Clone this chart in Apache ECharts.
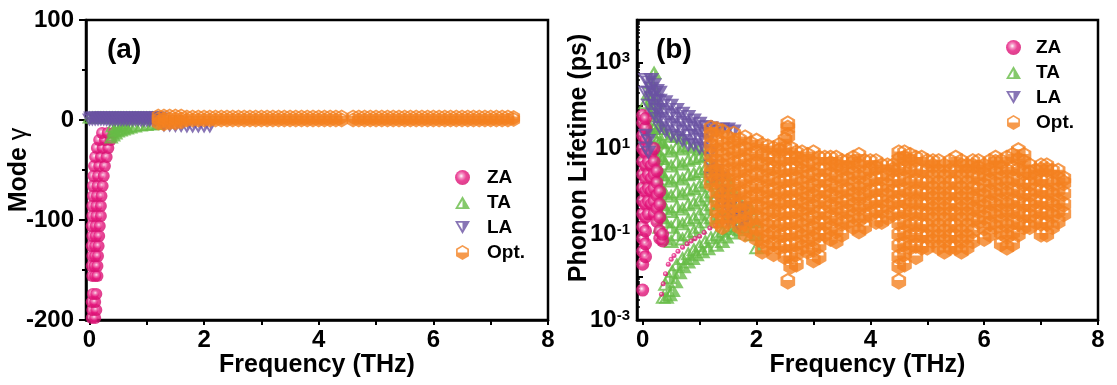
<!DOCTYPE html>
<html><head><meta charset="utf-8">
<script src="https://cdn.jsdelivr.net/npm/echarts@6/dist/echarts.min.js"></script>
<style>html,body{margin:0;padding:0;background:#fff}#c{width:1117px;height:385px}</style>
</head><body><div id="c"></div>
<script>
// ---------- tick labels ----------
const freqLabels = [0, 2, 4, 6, 8];
const freqTicks = [0, 1, 2, 3, 4, 5, 6, 7, 8];
const legendNames = ['ZA', 'TA', 'LA', 'Opt.'];

// ---------- panel (a): mode Grüneisen parameter ----------
const zaGamma = [[0.04,-198],[0.1,-198],[0.05,-190],[0.12,-190],[0.04,-182],[0.1,-182],[0.06,-174],[0.12,-174],
 [0.05,-156],[0.1,-156],[0.14,-156],[0.04,-146],[0.09,-146],[0.14,-146],[0.05,-136],[0.1,-136],[0.15,-136],
 [0.04,-126],[0.1,-126],[0.16,-126],[0.05,-116],[0.11,-116],[0.17,-116],[0.04,-106],[0.11,-106],[0.18,-106],
 [0.05,-96],[0.12,-96],[0.2,-96],[0.05,-86],[0.12,-86],[0.2,-86],[0.06,-76],[0.13,-76],[0.21,-76],[0.06,-66],[0.14,-66],[0.23,-66],
 [0.07,-56],[0.15,-56],[0.25,-56],[0.08,-46],[0.17,-46],[0.27,-46],[0.1,-37],[0.2,-37],[0.3,-37],[0.13,-28],[0.23,-28],[0.33,-28],
 [0.17,-20],[0.27,-20],[0.37,-20],[0.22,-13],[0.32,-13],[0.42,-13]];
const taGamma = [[0.0,3],[0.05,3],[0.1,3],[0.15,3],[0.2,3],[0.25,3],[0.3,3],[0.35,3],[0.4,3],[0.45,3],[0.5,3],[0.55,3],[0.6,3],[0.65,3],
 [0.7,3],[0.75,3],[0.8,3],[0.85,3],[0.9,3],[0.95,3],[1.0,3],[1.05,3],[1.1,3],[1.15,3],[1.2,3],
 [0.38,-17],[0.42,-15],[0.46,-13],[0.5,-11],[0.55,-10],[0.6,-9],[0.66,-8],[0.72,-7],[0.8,-6],[0.9,-5],[1.0,-4.5],[1.1,-4],[1.2,-3.5],
 [0.42,-10],[0.48,-7],[0.55,-6],[0.62,-5],[0.4,-6]];
const laGamma = [[0.0,0],[0.05,0],[0.1,0],[0.15,0],[0.2,0],[0.25,0],[0.3,-0.5],[0.35,-0.5],[0.4,-0.5],[0.45,-0.5],[0.5,-0.5],[0.55,-0.5],
 [0.6,-0.5],[0.65,-0.5],[0.7,-0.5],[0.75,-0.5],[0.8,-0.5],[0.85,-0.5],[0.9,-1],[0.95,-1],[1.0,-1],[1.05,-1],[1.1,-1],[1.15,-1],[1.2,-1],
 [0.02,2],[0.07,2],[0.12,2],[0.17,2],[0.22,2],[0.27,2],[0.32,2],[0.37,2],[0.42,2],[0.47,2],[0.52,2],[0.57,2],[0.62,2],[0.67,2],
 [0.72,2],[0.77,2],[0.82,2],[0.87,2],[0.92,2],[0.97,2],[1.02,2],[1.07,2],[1.12,2],[1.17,2],[1.22,2],[1.25,1],
 [1.3,-6],[1.4,-6],[1.5,-6.5],[1.6,-6.5],[1.7,-7],[1.8,-7],[1.9,-7],[2.0,-7],[2.1,-7]];
const optGamma = [[1.2,-3],[1.2,1],[1.2,4],[1.3,-4],[1.3,1],[1.3,4],[1.4,-3],[1.4,1],[1.4,4],[1.5,-3],[1.5,1],[1.5,4],[1.6,-2],[1.6,1],[1.6,4],
 [1.7,0],[1.7,3],[1.8,0],[1.8,3],[1.9,0],[1.9,3],[2.0,0],[2.0,3],[2.1,0],[2.1,3],[2.2,0],[2.2,3],[2.3,0],[2.3,3],[2.4,0],[2.4,3],
 [2.5,0],[2.5,3],[2.6,0],[2.6,3],[2.7,0],[2.7,3],[2.8,0],[2.8,3],[2.9,0],[2.9,3],[3.0,0],[3.0,3],[3.1,0],[3.1,3],[3.2,0],[3.2,3],
 [3.3,0],[3.3,3],[3.4,0],[3.4,3],[3.5,0],[3.5,3],[3.6,0],[3.6,3],[3.7,0],[3.7,3],[3.8,0],[3.8,3],[3.9,0],[3.9,3],[4.0,0],[4.0,3],
 [4.1,0],[4.1,3],[4.2,0],[4.2,3],[4.3,0],[4.3,3],[4.4,0],[4.4,3],[4.6,0],[4.6,3],[4.7,0],[4.7,3],[4.8,0],[4.8,3],[4.9,0],[4.9,3],
 [5.0,0],[5.0,3],[5.1,0],[5.1,3],[5.2,0],[5.2,3],[5.3,0],[5.3,3],[5.4,0],[5.4,3],[5.5,0],[5.5,3],[5.6,0],[5.6,3],[5.7,0],[5.7,3],
 [5.8,0],[5.8,3],[5.9,0],[5.9,3],[6.0,0],[6.0,3],[6.1,0],[6.1,3],[6.2,0],[6.2,3],[6.3,0],[6.3,3],[6.4,0],[6.4,3],[6.5,0],[6.5,3],
 [6.6,0],[6.6,3],[6.7,0],[6.7,3],[6.8,0],[6.8,3],[6.9,0],[6.9,3],[7.0,0],[7.0,3],[7.1,0],[7.1,3],[7.2,0],[7.2,3],[7.3,0],[7.3,3],[7.4,0.5],[7.4,2.5]];

// ---------- panel (b): phonon lifetime (ps), column-wise ----------
const zaLifeX = [0.0, 0.05, 0.1, 0.15, 0.2, 0.25, 0.3, 0.35];
const zaLifeY = [[0.005,0.02,0.04,0.08,0.15,0.3,0.6,1.2,2.5,5,10,20,40,60],[0.03,0.06,0.12,0.25,0.5,1,2,4,8,16,30,50],
 [0.3,0.6,1.2,2.5,5,10],[0.5,1,2,4,8],[0.3,0.6,1.2,2.5,5,10],[0.2,0.4,0.8,1.6,3],[0.08,0.12,0.25,0.5,1],[0.07,0.1]];
const zaArch = [[0.33,0.004],[0.36,0.007],[0.4,0.012],[0.45,0.02],[0.5,0.026],[0.55,0.032],[0.62,0.04],[0.7,0.05],[0.78,0.06],[0.85,0.07],
 [0.92,0.08],[1.0,0.09],[1.08,0.11],[1.18,0.14],[1.28,0.16],[1.4,0.19]];
const taLifeX = [0.05,0.1,0.15,0.2,0.25,0.3,0.35,0.4,0.5,0.6,0.7,0.8,0.9,1.0,1.1,1.2,1.3,1.4,1.5,1.6,1.7,1.8,1.9,2.0];
const taLifeY = [[3,8,20,50,120],[2,5,12,30,80,200],[1.5,4,10,25,60,150,350],[0.8,2,5,12,30,80,250,600],[0.4,1,2.5,6,15,40,120],
 [0.15,0.3,0.7,1.5,3,7,15,35],[0.1,0.25,0.5,1,2.5,6,14,30],[0.08,0.2,0.4,0.9,2,4.5,10,22],[0.07,0.15,0.35,0.8,1.8,4,9,20],
 [0.1,0.2,0.45,1,2.2,5,11,20],[0.08,0.18,0.4,0.9,2,4.5,10,18],[0.1,0.22,0.5,1.1,2.5,5.5,12],[0.12,0.25,0.55,1.2,2.7,6,11],
 [0.15,0.3,0.65,1.4,3,6.5,10],[0.2,0.4,0.8,1.7,3.5,7],[0.25,0.5,1,2,4],[0.2,0.4,0.8,1.6,3],[0.3,0.6,1.2,2.5],[0.3,0.6,1.2,2],
 [0.25,0.5,1],[0.3,0.6],[0.2,0.4],[0.1,0.2,0.4],[0.05,0.1,0.2]];
const taArch = [[0.36,0.0035],[0.42,0.0035],[0.48,0.004],[0.53,0.005],[0.58,0.008],[0.65,0.013],[0.72,0.018],[0.8,0.023],[0.88,0.028],
 [0.95,0.034],[1.05,0.04],[1.15,0.047],[1.3,0.057],[1.4,0.07],[1.47,0.089],[1.6,0.11],[1.7,0.13],[1.8,0.15],
 [0.4,0.007],[0.46,0.01],[0.52,0.014],[0.6,0.02],[0.7,0.028],[0.8,0.036],[0.9,0.045],[1.0,0.055],[1.1,0.07],[1.2,0.085],
 [1.3,0.1],[1.4,0.12],[1.5,0.14],[1.6,0.16],[1.7,0.2]];
const laLifeX = [0.05,0.1,0.15,0.2,0.25,0.3,0.4,0.5,0.6,0.7,0.8,0.9,1.0,1.1,1.2,1.3,1.4,1.5,1.6,1.7,1.8];
const laLifeY = [[10,20,200,400],[8,15,100,200,350],[150,250,400],[60,100,180,300],[50,80,130,220],[30,50,80,130,200],[25,40,70,120],
 [20,35,60,100],[18,30,50,80],[15,25,40,65],[12,20,35,55],[12,20,30,45],[10,16,25,38],[9,14,22,32],[2,4,8,20,30],[2,3,25],
 [0.5,1,2,28],[0.2,0.4,28],[0.3,0.6,25],[0.15,0.3],[0.2,0.4]];
const optLifeX = [1.2,1.3,1.4,1.5,1.6,1.7,1.8,1.9,2.0,2.1,2.2,2.3,2.4,2.5,2.55,2.6,2.7,2.8,2.9,3.0,3.1,3.2,3.3,3.4,3.5,3.6,3.7,3.8,3.9,
 4.0,4.1,4.2,4.3,4.4,4.5,4.6,4.7,4.8,4.9,5.0,5.1,5.2,5.3,5.4,5.5,5.6,5.7,5.8,5.9,6.0,6.1,6.2,6.3,6.4,6.5,6.6,6.7,6.8,6.9,7.0,7.1,7.2,7.3,7.4];
const optLifeY = [
 [1.5,2.5,4,7,12,20,30],[0.2,0.35,0.6,1,1.8,3,5,9,15,28],[0.15,0.25,0.45,0.8,1.4,2.5,4,7,13,25],[0.2,0.35,0.6,1,1.8,3,5.5,10,18],
 [0.25,0.45,0.8,1.4,2.5,4.5,8,14,22],[0.15,0.28,0.5,0.9,1.6,3,5,9,16],[0.1,0.18,0.32,0.55,1,1.8,3.2,5.5,10,18],[0.12,0.22,0.4,0.7,1.2,2.2,4,7,13],
 [0.08,0.14,0.25,0.45,0.8,1.4,2.5,4.5,8,15],[0.04,0.07,0.12,0.22,0.4,0.7,1.2,2.2,4,7,12],[0.05,0.09,0.16,0.3,0.55,1,1.8,3.2,6,11],
 [0.035,0.06,0.11,0.2,0.35,0.6,1.1,2,3.5,6,10],[0.05,0.09,0.16,0.3,0.5,0.9,1.6,3,5,9,12],[0.03,0.055,0.1,0.18,0.32,0.6,1,1.8,3.2,6,10,16],
 [0.008,20,30,38],[0.018,0.03,0.055,0.1,0.18,0.32,0.6,1,1.8,3.2,6,10],[0.02,0.035,0.06,0.11,0.2,0.35,0.6,1.1,2,3.5,6,8],
 [0.05,0.09,0.16,0.3,0.5,0.9,1.6,3,5,8],[0.04,0.07,0.12,0.22,0.4,0.7,1.2,2.2,4,7],[0.025,0.045,0.08,0.14,0.25,0.45,0.8,1.4,2.5,4.5,8],
 [0.03,0.055,0.1,0.18,0.32,0.6,1,1.8,3.2,6],[0.1,0.18,0.32,0.55,1,1.8,3.2,6],[0.08,0.14,0.25,0.45,0.8,1.4,2.5,4.5,6],
 [0.07,0.12,0.22,0.4,0.7,1.2,2.2,4,6],[0.1,0.18,0.32,0.55,1,1.8,3.2,5],[0.2,0.35,0.6,1.1,2,3.5,5],[0.15,0.27,0.48,0.85,1.5,2.7,4.8,6],
 [0.12,0.22,0.4,0.7,1.2,2.2,4,7],[0.15,0.27,0.48,0.85,1.5,2.7,5],[0.3,0.55,1,1.8,3.2,5],[0.2,0.35,0.6,1.1,2,3.5,5],[0.2,0.35,0.6,1.1,2,4],
 [0.25,0.45,0.8,1.4,2.5,4],[0.3,0.55,1,1.8,3.2,4],[0.008,0.018,0.03,0.055,0.1,0.18,0.32,0.6,1,1.8,3.2,5.5,8],
 [0.02,0.035,0.06,0.11,0.2,0.35,0.6,1.1,2,3.5,6,8],[0.05,0.09,0.16,0.3,0.5,0.9,1.6,3,5,7],[0.03,0.055,0.1,0.18,0.32,0.6,1,1.8,3.2,6],
 [0.05,0.09,0.16,0.3,0.5,0.9,1.6,3,6],[0.05,0.09,0.16,0.3,0.5,0.9,1.6,3,5],[0.07,0.12,0.22,0.4,0.7,1.2,2.2,4,5],
 [0.05,0.09,0.16,0.3,0.5,0.9,1.6,3,5],[0.04,0.07,0.12,0.22,0.4,0.7,1.2,2.2,4],[0.05,0.09,0.16,0.3,0.5,0.9,1.6,3,5],
 [0.05,0.09,0.16,0.3,0.5,0.9,1.6,3,6],[0.04,0.07,0.12,0.22,0.4,0.7,1.2,2.2,4,5],[0.05,0.09,0.16,0.3,0.5,0.9,1.6,3,4],
 [0.07,0.12,0.22,0.4,0.7,1.2,2.2,4,5],[0.2,0.35,0.6,1.1,2,3.5,5],[0.08,0.14,0.25,0.45,0.8,1.4,2.5,4],[0.1,0.18,0.32,0.55,1,1.8,3.2,5],
 [0.15,0.27,0.48,0.85,1.5,2.7,4.8,6],[0.06,0.11,0.2,0.35,0.6,1.1,2,3.5,5],[0.05,0.09,0.16,0.3,0.5,0.9,1.6,3,6],
 [0.06,0.11,0.2,0.35,0.6,1.1,2,3.5,7],[0.1,0.18,0.32,0.55,1,1.8,3.2,5.5,9],[0.15,0.27,0.48,0.85,1.5,2.7,4.8,7],
 [0.15,0.27,0.48,0.85,1.5,2.7,4],[0.2,0.35,0.6,1.1,2,3],[0.1,0.18,0.32,0.55,1,1.8,3.2,4],[0.1,0.18,0.32,0.55,1,1.8,3.2,4],
 [0.15,0.27,0.48,0.85,1.5,3],[0.2,0.35,0.6,1.1,2,3],[0.3,0.5,0.9,1.6,2]];

// ---------- helpers / styling ----------
function cols(xs, ys) { const out = []; xs.forEach((x, i) => ys[i].forEach(y => out.push([x, y]))); return out; }
const FONT = '"Liberation Sans", Arial, Helvetica, sans-serif';
const C = { ZA: '#E6177E', TA: '#66BB46', LA: '#6A52A3', OPT: '#F4811F' };
const SYM_TA = 'path://M50 0L100 87L0 87ZM50 28L21 75L50 75Z';
const SYM_LA = 'path://M0 0L100 0L50 87ZM20 12L50 60L50 12Z';
const SYM_OPT = 'path://M50 0L93 25L93 75L50 100L7 75L7 25ZM50 14L24 29L24 43L76 43L76 29Z';
const SYM_OPT_LEGEND = 'path://M50 0L93 25L93 75L50 100L7 75L7 25ZM50 12L18 31L18 50L82 50L82 31Z';
const zaColor = { type: 'radial', x: 0.42, y: 0.4, r: 0.6,
  colorStops: [{ offset: 0, color: '#ffffff' }, { offset: 0.25, color: '#F27AB6' }, { offset: 0.55, color: C.ZA }, { offset: 1, color: '#D40F6E' }] };

const axisLine = { show: true, onZero: false, lineStyle: { color: '#000', width: 2.5 } };
const tickLbl = { color: '#000', fontSize: 24, fontWeight: 'bold', fontFamily: FONT };
const nameStyle = { color: '#000', fontSize: 25, fontWeight: 'bold', fontFamily: FONT };
const legendData = [{ name: 'ZA' }, { name: 'TA' }, { name: 'LA' }, { name: 'Opt.', icon: SYM_OPT_LEGEND }];

function xAxisCfg(grid, min) {
  return { type: 'value', gridIndex: grid, min: min, max: 8, axisLine: axisLine, splitLine: { show: false },
    axisTick: { show: true, inside: false, length: 5, lineStyle: { width: 2, color: '#000' }, customValues: freqTicks },
    axisLabel: Object.assign({ margin: 8, customValues: freqLabels }, tickLbl),
    name: 'Frequency (THz)', nameLocation: 'middle', nameGap: 33, nameMoveOverlap: false, nameTextStyle: nameStyle };
}
function legendCfg(left, top, pad) {
  return { left: left, top: top, orient: 'vertical', itemWidth: 15, itemHeight: 15, itemGap: 6, selectedMode: false, data: legendData,
    textStyle: { color: '#000', fontSize: 19, fontWeight: 'bold', fontFamily: FONT, lineHeight: 15, padding: [0, 0, 0, pad] } };
}

const option = {
  animation: false,
  grid: [
    { left: 86, right: 569, top: 20, bottom: 65, show: true, borderColor: '#000', borderWidth: 2.5, backgroundColor: 'transparent' },
    { left: 637, right: 19, top: 20, bottom: 65, show: true, borderColor: '#000', borderWidth: 2.5, backgroundColor: 'transparent' }
  ],
  xAxis: [xAxisCfg(0, -0.06), xAxisCfg(1, -0.1)],
  yAxis: [
    { type: 'value', gridIndex: 0, min: -200, max: 100, interval: 100, position: 'left', axisLine: axisLine, splitLine: { show: false },
      axisTick: { show: true, inside: false, length: 7, lineStyle: { width: 2, color: '#000' } },
      minorTick: { show: true, splitNumber: 2, length: 4, lineStyle: { width: 2, color: '#000' } },
      axisLabel: Object.assign({ margin: 12 }, tickLbl),
      name: '{b|Mode }{g|γ}', nameLocation: 'middle', nameGap: 54, nameMoveOverlap: false,
      nameTextStyle: { rich: { b: nameStyle, g: { color: '#000', fontSize: 25, fontWeight: 'normal', fontFamily: FONT } } } },
    { type: 'log', logBase: 10, gridIndex: 1, min: 0.001, max: 10000, position: 'left', axisLine: axisLine, splitLine: { show: false },
      axisTick: { show: true, inside: true, length: 6, lineStyle: { width: 2, color: '#000' } },
      minorTick: { show: true, splitNumber: 9, length: 3, lineStyle: { width: 1.5, color: '#000' } },
      axisLabel: { margin: 7, formatter: v => { const e = Math.round(Math.log10(v)); return (e % 2 === 0) ? '' : '{b|10}{s|' + e + '}'; },
        rich: { b: tickLbl, s: { color: '#000', fontSize: 15, fontWeight: 'bold', fontFamily: FONT, verticalAlign: 'top' } } },
      name: 'Phonon Lifetime (ps)', nameLocation: 'middle', nameGap: 45, nameMoveOverlap: false,
      nameTextStyle: Object.assign({ padding: [0, 0, 0, 24] }, nameStyle) }
  ],
  legend: [legendCfg(450, 163, 12), legendCfg(1001, 33, 10)],
  graphic: [
    { type: 'text', left: 107, top: 36, style: { text: '(a)', font: 'bold 28px ' + FONT, fill: '#000' } },
    { type: 'text', left: 656, top: 36, style: { text: '(b)', font: 'bold 28px ' + FONT, fill: '#000' } }
  ],
  series: [
    { name: 'ZA', type: 'scatter', xAxisIndex: 0, yAxisIndex: 0, data: zaGamma, symbol: 'circle', symbolSize: 12, itemStyle: { color: zaColor }, silent: true },
    { name: 'TA', type: 'scatter', xAxisIndex: 0, yAxisIndex: 0, data: taGamma, symbol: SYM_TA, symbolSize: 15, symbolKeepAspect: true, itemStyle: { color: C.TA }, silent: true },
    { name: 'LA', type: 'scatter', xAxisIndex: 0, yAxisIndex: 0, data: laGamma, symbol: SYM_LA, symbolSize: 15, symbolKeepAspect: true, itemStyle: { color: C.LA }, silent: true },
    { name: 'Opt.', type: 'scatter', xAxisIndex: 0, yAxisIndex: 0, data: optGamma, symbol: SYM_OPT, symbolSize: 15, symbolKeepAspect: true, itemStyle: { color: C.OPT }, silent: true },

    { name: 'TA', type: 'scatter', xAxisIndex: 1, yAxisIndex: 1, data: cols(taLifeX, taLifeY).concat(taArch), symbol: SYM_TA, symbolSize: 16, symbolKeepAspect: true, itemStyle: { color: C.TA }, silent: true },
    { name: 'ZA', type: 'scatter', xAxisIndex: 1, yAxisIndex: 1, data: cols(zaLifeX, zaLifeY).concat(zaArch.map(p => ({ value: p, symbolSize: 5 }))),
      symbol: 'circle', symbolSize: 13, itemStyle: { color: zaColor }, silent: true },
    { name: 'LA', type: 'scatter', xAxisIndex: 1, yAxisIndex: 1, data: cols(laLifeX, laLifeY), symbol: SYM_LA, symbolSize: 16, symbolKeepAspect: true, itemStyle: { color: C.LA }, silent: true },
    { name: 'Opt.', type: 'scatter', xAxisIndex: 1, yAxisIndex: 1, data: cols(optLifeX, optLifeY), symbol: SYM_OPT, symbolSize: 17, symbolKeepAspect: true, itemStyle: { color: C.OPT }, silent: true }
  ]
};
const chart = echarts.init(document.getElementById('c'), null, { renderer: 'canvas' });
chart.setOption(option);
</script></body></html>
